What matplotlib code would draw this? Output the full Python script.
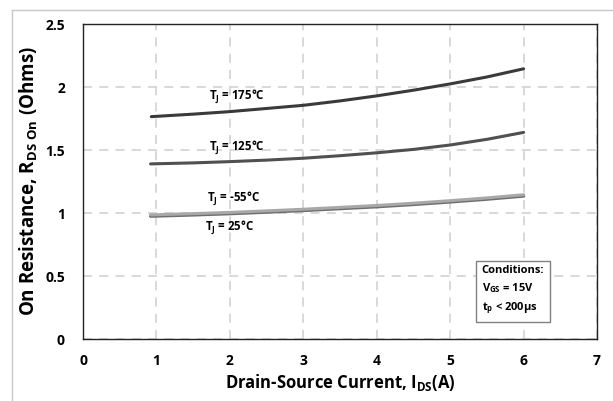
import matplotlib
matplotlib.use("Agg")
import matplotlib.pyplot as plt
from matplotlib.lines import Line2D

# Data
x_175 = [0.93, 1.5, 2.0, 2.5, 3.0, 3.5, 4.0, 4.5, 5.0, 5.5, 6.0]
y_175 = [1.765, 1.785, 1.805, 1.83, 1.855, 1.89, 1.93, 1.975, 2.025, 2.08, 2.145]
x_125 = [0.92, 1.5, 2.0, 2.5, 3.0, 3.5, 4.0, 4.5, 5.0, 5.5, 6.0]
y_125 = [1.39, 1.398, 1.408, 1.42, 1.435, 1.455, 1.478, 1.505, 1.54, 1.585, 1.64]
x_m55 = [0.92, 1.5, 2.0, 2.5, 3.0, 3.5, 4.0, 4.5, 5.0, 5.5, 6.0]
y_m55 = [0.985, 0.995, 1.005, 1.017, 1.03, 1.045, 1.06, 1.078, 1.098, 1.12, 1.145]
x_25 = [0.92, 1.5, 2.0, 2.5, 3.0, 3.5, 4.0, 4.5, 5.0, 5.5, 6.0]
y_25 = [0.975, 0.985, 0.995, 1.007, 1.02, 1.035, 1.05, 1.068, 1.088, 1.11, 1.135]
x_ticks = [0, 1, 2, 3, 4, 5, 6, 7]
y_ticks = [0, 0.5, 1, 1.5, 2, 2.5]
y_tick_labels = ["0", "0.5", "1", "1.5", "2", "2.5"]

plt.rcParams['font.family'] = ['Open Sans', 'DejaVu Sans']
plt.rcParams['mathtext.fontset'] = 'custom'
plt.rcParams['mathtext.rm'] = 'Open Sans'
plt.rcParams['mathtext.bf'] = 'Open Sans:bold'

fig = plt.figure(figsize=(6.13, 4.01), dpi=100)
ax = fig.add_axes([0.1354, 0.1546, 0.8386, 0.7854])

ax.set_xlim(0, 7)
ax.set_ylim(0, 2.5)
ax.set_xticks(x_ticks)
ax.set_yticks(y_ticks)
ax.set_yticklabels(y_tick_labels)
ax.grid(True, color='#d6d6d6', linestyle=(0, (5, 4)), linewidth=1.3)
ax.set_axisbelow(True)
ax.tick_params(length=0, labelsize=10)
ax.tick_params(axis='y', pad=13)
ax.tick_params(axis='x', pad=11)
for lab in ax.get_xticklabels() + ax.get_yticklabels():
    lab.set_fontweight('bold')
for s in ax.spines.values():
    s.set_color('#222222')
    s.set_linewidth(1.0)

ax.plot(x_175, y_175, color='#3a3a3a', lw=2.2, solid_capstyle='round')
ax.plot(x_125, y_125, color='#505050', lw=2.2, solid_capstyle='round')
ax.plot(x_25, y_25, color='#6e6e6e', lw=2.4, solid_capstyle='round')
ax.plot(x_m55, y_m55, color='#a8a8a8', lw=2.2, solid_capstyle='round')

lab_kw = dict(ha='center', va='center', fontsize=8.3, fontweight='bold')
ax.text(2.1, 1.92, r'T$_\mathbf{J}$ = 175°C', **lab_kw)
ax.text(2.1, 1.515, r'T$_\mathbf{J}$ = 125°C', **lab_kw)
ax.text(2.05, 1.115, r'T$_\mathbf{J}$ = -55°C', **lab_kw)
ax.text(2.0, 0.885, r'T$_\mathbf{J}$ = 25°C', **lab_kw)

ax.text(5.43, 0.59, 'Conditions:\n' + r'V$_\mathbf{GS}$ = 15V' + '\n' + r't$_\mathbf{p}$ < 200µs',
        ha='left', va='top', fontsize=8, fontweight='bold', linespacing=1.55,
        bbox=dict(boxstyle='square,pad=0.55', fc='white', ec='#808080', lw=1.0))

ax.set_xlabel(r'Drain-Source Current, I$_\mathbf{DS}$(A)', fontsize=12, fontweight='bold', labelpad=3)
ax.set_ylabel(r'On Resistance, R$_\mathbf{DS\ On}$ (Ohms)', fontsize=13.5, fontweight='bold', labelpad=4)

# figure frame lines (top and left)
fig.add_artist(Line2D([12/613, 1.0], [1 - 10/401, 1 - 10/401], color='#c8c8c8', lw=1.0))
fig.add_artist(Line2D([12/613, 12/613], [0.0, 1 - 10/401], color='#c8c8c8', lw=1.0))

fig.savefig('out.png', dpi=100)
